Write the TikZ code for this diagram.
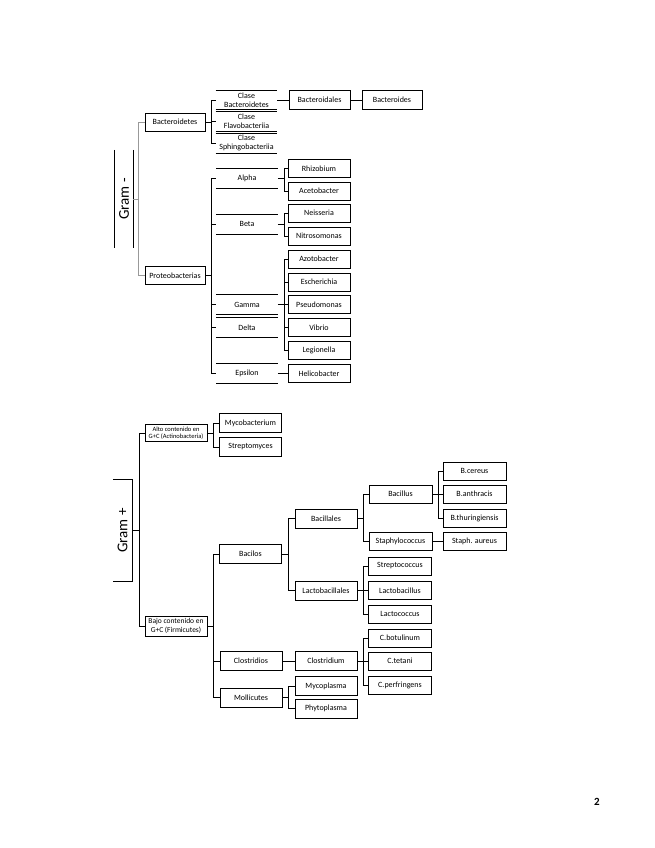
\documentclass[tikz,border=0pt]{standalone}
\usepackage{fontspec}
\setmainfont{Carlito}

\begin{document}
\begin{tikzpicture}[x=1pt,y=-1pt,
	taxon/.style={draw,line width=0.9pt,minimum width=62,minimum height=18,inner sep=1pt,align=center,font=\fontsize{8}{9}\selectfont},
	rank/.style={taxon,draw=none,minimum width=61,minimum height=19},
	gramlabel/.style={rotate=90,inner sep=0pt,font=\fontsize{15}{15}\selectfont},
	link/.style={line width=0.7pt}]
	\useasboundingbox (0,0) rectangle (655,848);
	% Gram -
	\node[gramlabel,minimum width=98,minimum height=18] (gramneg) at (124,199) {Gram -};
	\node[taxon,minimum width=60] (bacteroidetes) at (175,122) {Bacteroidetes};
	\node[taxon,minimum width=60] (proteo) at (175,275.5) {Proteobacterias};
	\node[rank] (clbact)    at (246.5,100)   {Clase\\Bacteroidetes};
	\node[rank] (clflavo)   at (246.5,121.5) {Clase\\Flavobacteriia};
	\node[rank] (clsphingo) at (246.5,143)   {Clase\\Sphingobacteriia};
	\node[taxon,minimum width=61,minimum height=19] (bacteroidales) at (319.5,100) {Bacteroidales};
	\node[taxon,minimum width=60,minimum height=19] (bacteroides) at (392,100) {Bacteroides};
	\node[rank] (alpha)   at (247,178.5) {Alpha};
	\node[rank] (beta)    at (247,224)   {Beta};
	\node[rank] (gamma)   at (247,304.5) {Gamma};
	\node[rank] (delta)   at (247,327.5) {Delta};
	\node[rank] (epsilon) at (247,373.5) {Epsilon};
	\node[taxon] (rhizobium)    at (319,168.5) {Rhizobium};
	\node[taxon] (acetobacter)  at (319,191)   {Acetobacter};
	\node[taxon] (neisseria)    at (319,213)   {Neisseria};
	\node[taxon] (nitrosomonas) at (319,236)   {Nitrosomonas};
	\node[taxon] (azotobacter)  at (319,259)   {Azotobacter};
	\node[taxon] (escherichia)  at (319,282)   {Escherichia};
	\node[taxon] (pseudomonas)  at (319,304.5) {Pseudomonas};
	\node[taxon] (vibrio)       at (319,327.5) {Vibrio};
	\node[taxon] (legionella)   at (319,350.5) {Legionella};
	\node[taxon] (helicobacter) at (319,373.5) {Helicobacter};
	% Gram +
	\node[gramlabel,minimum width=101,minimum height=19] (gramplus) at (122.5,530.5) {Gram +};
	\node[taxon,minimum height=17,font=\fontsize{6.5}{7}\selectfont] (alto) at (176,433) {Alto contenido en\\G+C (Actinobacteria)};
	\node[taxon,minimum height=20,font=\fontsize{7.5}{8.5}\selectfont] (bajo) at (176,626) {Bajo contenido en\\G+C (Firmicutes)};
	\node[taxon,minimum height=19] (mycobacterium) at (250.5,423) {Mycobacterium};
	\node[taxon,minimum height=19] (streptomyces)  at (250.5,447) {Streptomyces};
	\node[taxon,minimum height=19] (bacilos)       at (250.5,554) {Bacilos};
	\node[taxon,minimum height=19] (clostridios)   at (251,661)   {Clostridios};
	\node[taxon,minimum height=19] (mollicutes)    at (251,697.5) {Mollicutes};
	\node[taxon,minimum height=19] (bacillales)      at (326,518.5) {Bacillales};
	\node[taxon,minimum height=19] (lactobacillales) at (326,590.5) {Lactobacillales};
	\node[taxon,minimum height=19] (clostridium)     at (326,661)   {Clostridium};
	\node[taxon,minimum height=19] (mycoplasma)      at (326,686)   {Mycoplasma};
	\node[taxon,minimum height=19] (phytoplasma)     at (326,708.5) {Phytoplasma};
	\node[taxon,minimum width=63] (bacillus)      at (400.5,494) {Bacillus};
	\node[taxon,minimum width=63] (staph)         at (400.5,541) {Staphylococcus};
	\node[taxon,minimum width=63] (streptococcus) at (400,566)   {Streptococcus};
	\node[taxon,minimum width=63] (lactobacillus) at (400,590.5) {Lactobacillus};
	\node[taxon,minimum width=63] (lactococcus)   at (400,614)   {Lactococcus};
	\node[taxon,minimum width=63] (cbotulinum)    at (400,638)   {C.botulinum};
	\node[taxon,minimum width=63] (ctetani)       at (400,661)   {C.tetani};
	\node[taxon,minimum width=63] (cperfringens)  at (400,685)   {C.perfringens};
	\node[taxon,minimum width=63] (bcereus)        at (474.5,471) {B.cereus};
	\node[taxon,minimum width=63] (banthracis)     at (474.5,494) {B.anthracis};
	\node[taxon,minimum width=63] (bthuringiensis) at (474.5,518) {B.thuringiensis};
	\node[taxon,minimum width=63] (staphaureus)    at (474.5,541) {Staph. aureus};
	\node[font=\fontsize{11}{11}\selectfont\bfseries] (pagenum) at (597,802) {2};
	% label frames and rank lines
	\draw[line width=0.9pt] (gramneg.north east) -- (gramneg.north west) (gramneg.south east) -- (gramneg.south west);
	\draw[line width=0.9pt] (gramplus.north east) -- (gramplus.south east) -- (gramplus.south west) -- (gramplus.north west);
	\foreach \r in {clbact,clflavo,clsphingo,alpha,beta,gamma,delta,epsilon}
		\draw[line width=0.9pt] (\r.north west) -- (\r.north east) (\r.south west) -- (\r.south east);
	% connectors
	\draw[link,black!40] (gramneg.south) -- ++(5,0) coordinate (fgramneg);
	\foreach \t in {bacteroidetes,proteo}
		\draw[link,black!40] (fgramneg) |- (\t.west);
	\draw[link] (gramplus.south) -- ++(7,0) coordinate (fgramplus);
	\foreach \t in {alto,bajo}
		\draw[link] (fgramplus) |- (\t.west);
	\foreach \p/\kids in {bacteroidetes/{clbact,clflavo,clsphingo}, clbact/bacteroidales, bacteroidales/bacteroides,
			proteo/{alpha,beta,gamma,delta,epsilon}, alpha/{rhizobium,acetobacter}, beta/{neisseria,nitrosomonas},
			gamma/{azotobacter,escherichia,pseudomonas,vibrio,legionella}, epsilon/helicobacter,
			alto/{mycobacterium,streptomyces}, bajo/{bacilos,clostridios,mollicutes},
			bacilos/{bacillales,lactobacillales}, bacillales/{bacillus,staph}, bacillus/{bcereus,banthracis,bthuringiensis},
			staph/staphaureus, lactobacillales/{streptococcus,lactobacillus,lactococcus},
			clostridios/clostridium, clostridium/{cbotulinum,ctetani,cperfringens}, mollicutes/{mycoplasma,phytoplasma}} {
		\draw[link] (\p.east) -- ++(6,0) coordinate (f\p);
		\foreach \k in \kids
			\draw[link] (f\p) |- (\k.west);
	}
\end{tikzpicture}
\end{document}
